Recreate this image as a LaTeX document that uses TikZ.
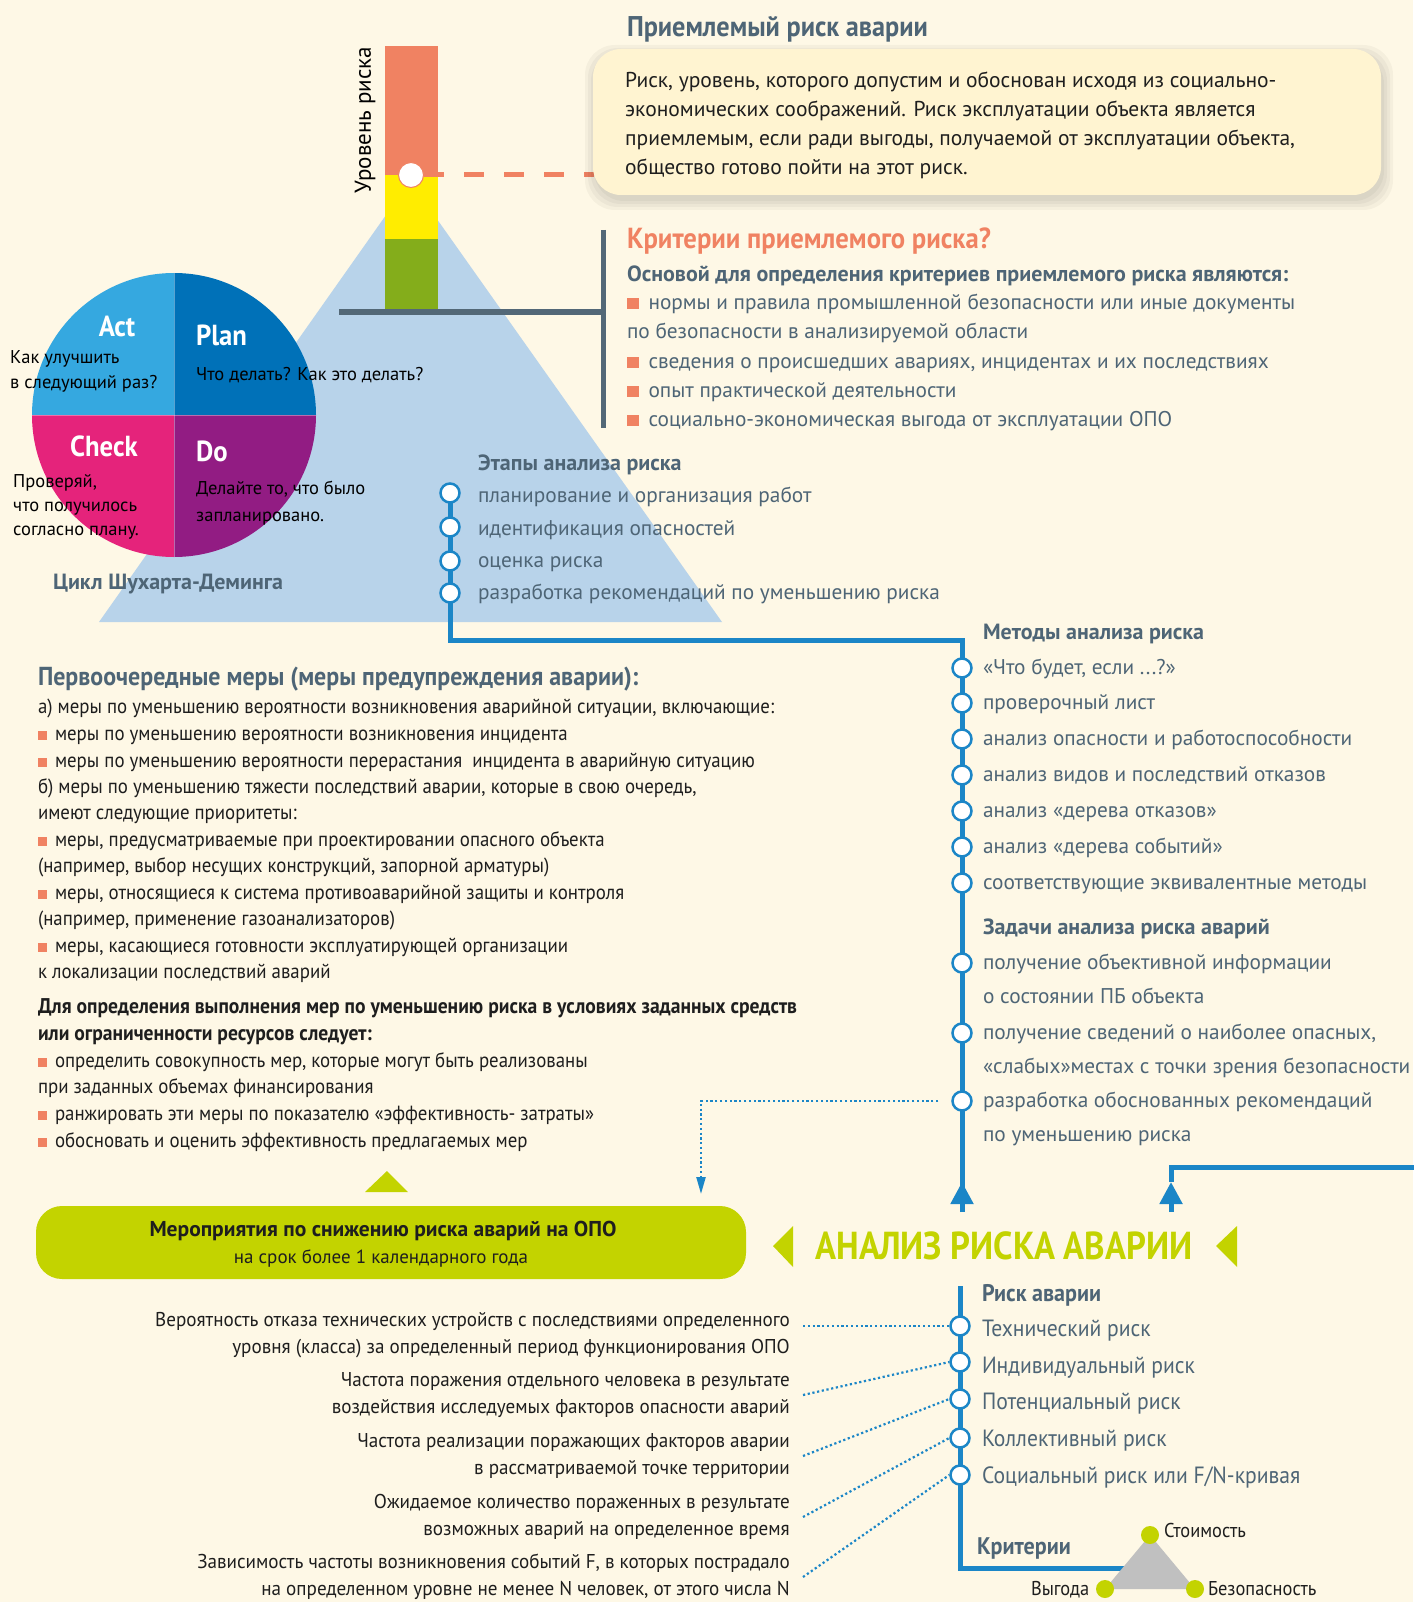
\documentclass[tikz,border=0pt]{standalone}
\usepackage{fontspec}
\setmainfont{PT Sans}
\newfontfamily\fc[FakeStretch=0.92]{PT Sans}
\newfontfamily\fd[FakeStretch=0.955]{PT Sans}
\newfontfamily\fcc[FakeStretch=0.89]{PT Sans}
\usetikzlibrary{arrows.meta}
\definecolor{bg}{HTML}{FEF8E6}
\definecolor{boxy}{HTML}{FFF4D1}
\definecolor{txt}{HTML}{4E6576}
\definecolor{orng}{HTML}{F08262}
\definecolor{yel}{HTML}{FFED00}
\definecolor{grn}{HTML}{84AD1B}
\definecolor{tri}{HTML}{B8D3EA}
\definecolor{lblue}{HTML}{1B86C7}
\definecolor{lime}{HTML}{C3D300}
\definecolor{gline}{HTML}{536877}
\definecolor{act}{HTML}{35A8E0}
\definecolor{plan}{HTML}{0071B8}
\definecolor{chk}{HTML}{E5237B}
\definecolor{dop}{HTML}{921C83}
\definecolor{tgray}{HTML}{C0C0C0}
\definecolor{ink}{HTML}{1E1E1E}
\newcommand\fs[2]{\fontsize{#1}{#2}\selectfont}
\newcommand\bul{\textcolor{orng}{\rule{11.5pt}{11.5pt}}\hspace{10pt}}
\newcommand\bulc{\textcolor{orng}{\rule{9pt}{9pt}}\hspace{8pt}}
\tikzset{
  tx/.style={inner sep=0pt, outer sep=0pt, anchor=west, text height=1.2em, text depth=0.2em},
  item/.style={tx, text=txt, font=\fs{21.3}{25}},
  itemb/.style={tx, text=txt, font=\bfseries\fs{22}{25}},
  ttl/.style={tx, text=txt, font=\fc\bfseries\fs{28.5}{30}},
  lm/.style={tx, text=ink, font=\fc\fs{20.5}{24}},
  lmb/.style={tx, text=ink, font=\fc\bfseries\fs{21.3}{24}},
  pd/.style={inner sep=0pt, anchor=west, align=left, text=black, font=\fs{18.5}{25}},
  pdh/.style={tx, text=white, font=\fc\bfseries\fs{29}{30}},
  rk/.style={tx, text=txt, font=\fc\fs{23.5}{26}},
  rl/.style={inner sep=0pt, anchor=east, align=right, text=ink, font=\fd\fs{20}{27}},
  dot/.style={circle, draw=lblue, fill=white, line width=2.5pt, minimum size=19pt, inner sep=0pt},
  ldot/.style={circle, fill=lime, minimum size=18pt, inner sep=0pt},
  bline/.style={lblue, line width=5pt},
  dline/.style={lblue, line width=2.2pt, dash pattern=on 2.2pt off 2.6pt},
}
\begin{document}
\begin{tikzpicture}[x=1pt,y=-1pt]
\useasboundingbox (0,0) rectangle (1413,1602);
\fill[bg] (0,0) rectangle (1413,1602);

% ---- big blue triangle
\coordinate (triL) at (99,622);
\coordinate (triR) at (722,622);
\coordinate (triA) at (410,181);
\fill[tri] (triL) -- (triA) -- (triR) -- cycle;

% ---- grey bracket
\coordinate (brL) at (339,312);
\coordinate (brM) at (603,312);
\coordinate (brT) at (603,230);
\coordinate (brB) at (603,428);
\draw[gline, line width=5pt] (brL) -- (brM);
\draw[gline, line width=5pt] (brT) -- (brB);

% ---- risk level bar
\fill[orng] (385,46) rectangle (438,175);
\fill[yel] (385,175) rectangle (438,239);
\fill[grn] (385,239) rectangle (438,309);
\node[rotate=90, inner sep=0pt, font=\fs{23}{24}, text=black] (lvl) at (365,120) {Уровень риска};

% ---- marker and dashed line
\coordinate (dashend) at (594,175);
\node[circle, fill=white, draw=orng, line width=1pt, minimum size=25pt, inner sep=0pt] (mk) at (411,175) {};
\draw[orng, line width=5pt, dash pattern=on 20pt off 20pt] (mk.east) -- (dashend);

% ---- definition box
\foreach \s in {0,3,6,9}{\fill[black, opacity=0.035, rounded corners=30pt] (594-\s,54-\s) rectangle (1384+\s,201+\s);}
\node[fill=boxy, rounded corners=28pt, minimum width=788pt, minimum height=146pt, inner sep=0pt] (box) at (987,122) {};
\node[ttl] (t1) at (627,32) {Приемлемый риск аварии};
\node[inner sep=0pt, anchor=west, align=left, text=ink, font=\fs{21.5}{29}] (boxtxt) at (625,125)
 {Риск, уровень, которого допустим и обоснован исходя из социально-\\
  экономических соображений. Риск эксплуатации объекта является\\
  приемлемым, если ради выгоды, получаемой от эксплуатации объекта,\\
  общество готово пойти на этот риск.};

% ---- criteria
\node[ttl, text=orng, font=\fc\bfseries\fs{29}{30}] (crT) at (627,244) {Критерии приемлемого риска?};
\node[itemb] (crS) at (627,277) {Основой для определения критериев приемлемого риска являются:};
\node[item] (cr1) at (627,304) {\bul нормы и правила промышленной безопасности или иные документы};
\node[item] (cr1b) at (627,333) {по безопасности в анализируемой области};
\node[item] (cr2) at (627,363) {\bul сведения о происшедших авариях, инцидентах и их последствиях};
\node[item] (cr3) at (627,392) {\bul опыт практической деятельности};
\node[item] (cr4) at (627,421) {\bul социально-экономическая выгода от эксплуатации ОПО};

% ---- PDCA circle
\coordinate (pc) at (174,415);
\begin{scope}
\clip (pc) circle[radius=142pt];
\fill[act] (pc) rectangle ++(-150,-150);
\fill[plan] (pc) rectangle ++(150,-150);
\fill[chk] (pc) rectangle ++(-150,150);
\fill[dop] (pc) rectangle ++(150,150);
\draw[white, opacity=0.35, line width=0.8pt] (pc) ++(-150,0) -- ++(300,0);
\draw[white, opacity=0.35, line width=0.8pt] (pc) ++(0,-150) -- ++(0,300);
\end{scope}
\node[pdh, anchor=center] (act) at (117,331) {Act};
\node[pdh] (plan) at (196,340) {Plan};
\node[pdh, anchor=center] (check) at (104,451) {Check};
\node[pdh] (do) at (196,456) {Do};
\node[pd] (actq) at (10,371) {Как улучшить\\в следующий раз?};
\node[pd] (planq) at (196,375) {Что делать? Как это делать?};
\node[pd, font=\fs{18.5}{24}] (checkq) at (13,507) {Проверяй,\\что получилось\\согласно плану.};
\node[pd, font=\fs{18.5}{27}] (doq) at (196,503) {Делайте то, что было\\запланировано.};
\node[itemb] (cyc) at (53,584) {Цикл Шухарта-Деминга};

% ---- stages
\coordinate (s1) at (450,493);
\coordinate (s2) at (450,527);
\coordinate (s3) at (450,561);
\coordinate (s4) at (450,593);
\coordinate (mcorner) at (962,640);
\coordinate (arrA) at (962,1212);
\coordinate (tipA) at (962,1182);
\draw[bline] (s1) |- (mcorner) -- (arrA);
\draw[bline, -{Triangle[width=22pt,length=22pt]}] (arrA) -- (tipA);
\foreach \n in {s1,s2,s3,s4}{\node[dot] (\n d) at (\n) {};}
\node[itemb] (stT) at (478,465) {Этапы анализа риска};
\node[item] (st1) at (478,497) {планирование и организация работ};
\node[item] (st2) at (478,530) {идентификация опасностей};
\node[item] (st3) at (478,562) {оценка риска};
\node[item] (st4) at (478,594) {разработка рекомендаций по уменьшению риска};

% ---- methods
\node[itemb] (mT) at (983,634) {Методы анализа риска};
\foreach \n/\y in {m1/668,m2/703,m3/739,m4/775,m5/811,m6/847,m7/883,k1/963,k2/1033,k3/1101}{
  \coordinate (\n) at (962,\y);
  \node[dot] (\n d) at (\n) {};}
\node[item] (mi1) at (983,669) {«Что будет, если ...?»};
\node[item] (mi2) at (983,704) {проверочный лист};
\node[item] (mi3) at (983,740) {анализ опасности и работоспособности};
\node[item] (mi4) at (983,776) {анализ видов и последствий отказов};
\node[item] (mi5) at (983,812) {анализ «дерева отказов»};
\node[item] (mi6) at (983,848) {анализ «дерева событий»};
\node[item] (mi7) at (983,884) {соответствующие эквивалентные методы};
\node[itemb] (kT) at (983,929) {Задачи анализа риска аварий};
\node[item] (ki1) at (983,964) {получение объективной информации};
\node[item] (ki1b) at (983,998) {о состоянии ПБ объекта};
\node[item] (ki2) at (983,1034) {получение сведений о наиболее опасных,};
\node[item] (ki2b) at (983,1068) {«слабых»местах с точки зрения безопасности};
\node[item] (ki3) at (983,1102) {разработка обоснованных рекомендаций};
\node[item] (ki3b) at (983,1136) {по уменьшению риска};

% dotted connector to measures
\coordinate (dtip) at (701,1194);
\draw[dline, -{Triangle[width=9pt,length=17pt]}] ([xshift=-13pt]k3d.west) -| (dtip);

% second blue arrow
\coordinate (arrB) at (1171,1212);
\coordinate (tipB) at (1171,1182);
\coordinate (cornB) at (1171,1167);
\coordinate (edgeB) at (1420,1167);
\draw[bline] (tipB) -- (cornB) -- (edgeB);
\draw[bline, -{Triangle[width=22pt,length=22pt]}] (arrB) -- (tipB);

% ---- priority measures
\node[ttl, font=\fc\bfseries\fs{26}{28}] (pmT) at (38,680) {Первоочередные меры (меры предупреждения аварии):};
\node[lm] (pm1) at (38,708) {а) меры по уменьшению вероятности возникновения аварийной ситуации, включающие:};
\node[lm] (pm2) at (38,735) {\bulc меры по уменьшению вероятности возникновения инцидента};
\node[lm] (pm3) at (38,762) {\bulc меры по уменьшению вероятности перерастания\ \ инцидента в аварийную ситуацию};
\node[lm] (pm4) at (38,788) {б) меры по уменьшению тяжести последствий аварии, которые в свою очередь,};
\node[lm] (pm5) at (38,814) {имеют следующие приоритеты:};
\node[lm] (pm6) at (38,841) {\bulc меры, предусматриваемые при проектировании опасного объекта};
\node[lm] (pm7) at (38,867) {(например, выбор несущих конструкций, запорной арматуры)};
\node[lm] (pm8) at (38,894) {\bulc меры, относящиеся к система противоаварийной защиты и контроля};
\node[lm] (pm9) at (38,920) {(например, применение газоанализаторов)};
\node[lm] (pm10) at (38,947) {\bulc меры, касающиеся готовности эксплуатирующей организации};
\node[lm] (pm11) at (38,973) {к локализации последствий аварий};
\node[lmb] (pm12) at (38,1008) {Для определения выполнения мер по уменьшению риска в условиях заданных средств};
\node[lmb] (pm13) at (38,1035) {или ограниченности ресурсов следует:};
\node[lm] (pm14) at (38,1062) {\bulc определить совокупность мер, которые могут быть реализованы};
\node[lm] (pm15) at (38,1088) {при заданных объемах финансирования};
\node[lm] (pm16) at (38,1115) {\bulc ранжировать эти меры по показателю «эффективность- затраты»};
\node[lm] (pm17) at (38,1142) {\bulc обосновать и оценить эффективность предлагаемых мер};

% ---- measures box
\fill[lime] (387,1171) -- (408,1192) -- (365,1192) -- cycle;
\node[fill=lime, rounded corners=26pt, minimum width=710pt, minimum height=73pt, inner sep=0pt] (mbox) at (391,1242.5) {};
\node[tx, anchor=center, text=ink, font=\bfseries\fs{21.5}{24}] (mb1) at (383,1231) {Мероприятия по снижению риска аварий на ОПО};
\node[tx, anchor=center, text=ink, font=\fs{19}{22}] (mb2) at (381,1258) {на срок более 1 календарного года};

% ---- main title
\fill[lime] (773,1246) -- (793,1226) -- (793,1267) -- cycle;
\fill[lime] (1216,1246) -- (1237,1226) -- (1237,1267) -- cycle;
\node[inner sep=0pt, text=lime, font=\fcc\bfseries\fs{39}{42}] (main) at (1004,1246) {АНАЛИЗ РИСКА АВАРИИ};

% ---- accident risk list
\coordinate (rtop) at (960,1286);
\coordinate (rend) at (1128,1568);
\coordinate (gA) at (1150,1535);
\coordinate (gB) at (1105,1589);
\coordinate (gC) at (1195,1589);
\draw[bline] (rtop) |- (rend);
\fill[tgray] (gA) -- (gB) -- (gC) -- cycle;
\node[ldot] (dA) at (gA) {};
\node[ldot] (dB) at (gB) {};
\node[ldot] (dC) at (gC) {};
\node[tx, text=ink, font=\fc\fs{20}{22}] (lA) at (1164,1532) {Стоимость};
\node[tx, text=ink, font=\fc\fs{20}{22}] (lB) at (1031,1590) {Выгода};
\node[tx, text=ink, font=\fc\fs{20}{22}] (lC) at (1208,1590) {Безопасность};
\node[rk, font=\fc\bfseries\fs{24}{26}] (crit) at (977,1549) {Критерии};

\foreach \n/\y in {rc1/1326,rc2/1362,rc3/1399,rc4/1438,rc5/1475}{
  \coordinate (\n) at (960,\y);
  \node[dot] (\n d) at (\n) {};}
\node[rk, font=\fc\bfseries\fs{24}{26}] (rT) at (982,1296) {Риск аварии};
\node[rk] (ri1) at (982,1331) {Технический риск};
\node[rk] (ri2) at (982,1368) {Индивидуальный риск};
\node[rk] (ri3) at (982,1404) {Потенциальный риск};
\node[rk] (ri4) at (982,1441) {Коллективный риск};
\node[rk] (ri5) at (982,1478) {Социальный риск или F/N-кривая};

\node[rl] (r1) at (790,1335) {Вероятность отказа технических устройств с последствиями определенного\\уровня (класса) за определенный период функционирования ОПО};
\node[rl] (r2) at (790,1395) {Частота поражения отдельного человека в результате\\воздействия исследуемых факторов опасности аварий};
\node[rl] (r3) at (790,1456) {Частота реализации поражающих факторов аварии\\в рассматриваемой точке территории};
\node[rl] (r4) at (790,1517) {Ожидаемое количество пораженных в результате\\возможных аварий на определенное время};
\node[rl] (r5) at (790,1577) {Зависимость частоты возникновения событий F, в которых пострадало\\на определенном уровне не менее N человек, от этого числа N};
\coordinate (r1s) at ([xshift=13pt]r1.east);
\draw[dline] (r1s |- rc1d.west) -- (rc1d.west);
\draw[dline] ([xshift=13pt]r2.east) -- (rc2d.west);
\draw[dline] ([xshift=13pt]r3.east) -- (rc3d.west);
\draw[dline] ([xshift=13pt]r4.east) -- (rc4d.west);
\draw[dline] ([xshift=13pt]r5.east) -- (rc5d.west);
\end{tikzpicture}
\end{document}
